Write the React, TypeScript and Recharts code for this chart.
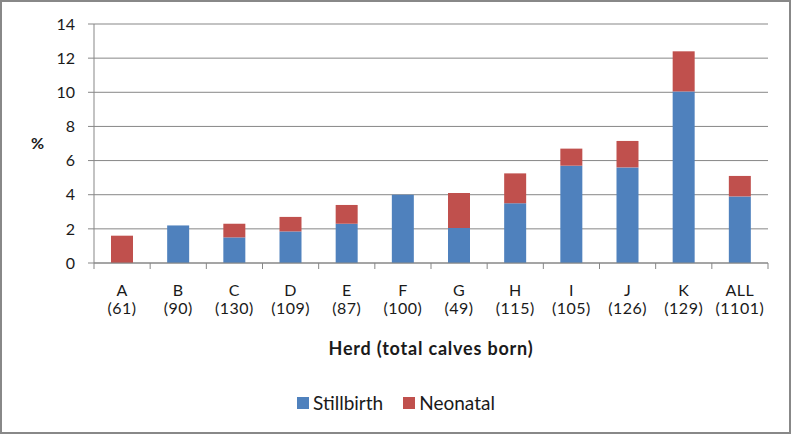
import React from "react";
import { BarChart, Bar, XAxis, YAxis, CartesianGrid, Legend } from "recharts";

const herds = ["A", "B", "C", "D", "E", "F", "G", "H", "I", "J", "K", "ALL"];
const calvesBorn = ["61", "90", "130", "109", "87", "100", "49", "115", "105", "126", "129", "1101"];
const stillbirth = [0, 2.2, 1.5, 1.85, 2.3, 4.0, 2.05, 3.5, 5.7, 5.6, 10.05, 3.9];
const neonatal = [1.6, 0, 0.8, 0.85, 1.1, 0, 2.05, 1.75, 1.0, 1.55, 2.35, 1.2];
const yTicks = [0, 2, 4, 6, 8, 10, 12, 14];
const seriesOrder = ["stillbirth", "neonatal"];

const data = herds.map((h, i) => ({
  herd: h,
  born: calvesBorn[i],
  stillbirth: stillbirth[i],
  neonatal: neonatal[i],
}));

const FONT = "Lato, 'Open Sans', sans-serif";
const GRID = "#878787";
const TEXT = "#1a1a1a";

// two-line category label plus a tick mark on the band boundary
function HerdTick(props: any) {
  const { x, y, payload, index } = props;
  const half = payload.offset || 28;
  const axisY = y - 6;
  const row = data[index] || data.find((d) => d.herd === payload.value);
  return (
    <g>
      <line x1={x - half} x2={x - half} y1={axisY} y2={axisY + 6} stroke={GRID} />
      {index === herds.length - 1 && (
        <line x1={x + half} x2={x + half} y1={axisY} y2={axisY + 6} stroke={GRID} />
      )}
      <text
        x={x}
        y={axisY + 33}
        textAnchor="middle"
        fontSize={16}
        fontFamily={FONT}
        fill={TEXT}
        letterSpacing={0.5}
      >
        <tspan x={x}>{payload.value}</tspan>
        <tspan x={x} dy={17.5}>
          ({row ? row.born : ""})
        </tspan>
      </text>
    </g>
  );
}

function LegendBox(props: any) {
  const items = [...(props.payload || [])].sort(
    (a: any, b: any) => seriesOrder.indexOf(a.dataKey) - seriesOrder.indexOf(b.dataKey)
  );
  return (
    <div style={{ display: "flex", justifyContent: "center", fontFamily: FONT, fontSize: 19, color: TEXT }}>
      {items.map((it: any, i: number) => (
        <div key={i} style={{ display: "flex", alignItems: "center", marginRight: i < items.length - 1 ? 20 : 0 }}>
          <span style={{ width: 12, height: 12, background: it.color, display: "inline-block", marginRight: 4 }} />
          <span>{it.value}</span>
        </div>
      ))}
    </div>
  );
}

export default function App() {
  return (
    <div style={{ position: "absolute", left: 0, top: 0, width: 792, height: 435, background: "#fff" }}>
      <BarChart
        width={792}
        height={435}
        data={data}
        margin={{ top: 24, right: 24, left: 0, bottom: 0 }}
      >
        <CartesianGrid vertical={false} stroke={GRID} />
        <XAxis
          dataKey="herd"
          height={172}
          stroke={GRID}
          tickLine={false}
          tickSize={6}
          tickMargin={0}
          interval={0}
          tick={<HerdTick />}
          label={{
            value: "Herd (total calves born)",
            position: "insideTop",
            offset: 79,
            style: { fontFamily: FONT, fontSize: 18, fontWeight: 700, fill: TEXT, letterSpacing: 0.8 },
          }}
        />
        <YAxis
          width={94}
          domain={[0, 14]}
          ticks={yTicks}
          stroke={GRID}
          tickSize={6}
          tickMargin={13}
          tick={{ fontFamily: FONT, fontSize: 16, fill: TEXT }}
          label={{
            value: "%",
            position: "insideLeft",
            offset: 31,
            angle: 0,
            style: { fontFamily: FONT, fontSize: 16, fontWeight: 700, fill: TEXT },
          }}
        />
        <Legend
          layout="vertical"
          align="center"
          verticalAlign="bottom"
          content={<LegendBox />}
          wrapperStyle={{ top: 391, bottom: "auto", left: 0, width: 792, height: 0, overflow: "visible" }}
        />
        <Bar dataKey="stillbirth" name="Stillbirth" stackId="a" fill="#4F81BD" barSize={22} isAnimationActive={false} />
        <Bar dataKey="neonatal" name="Neonatal" stackId="a" fill="#C0504D" barSize={22} isAnimationActive={false} />
      </BarChart>
      <div
        style={{
          position: "absolute",
          left: 0,
          top: 0,
          width: 791,
          height: 434,
          boxSizing: "border-box",
          border: "2px solid #888",
          pointerEvents: "none",
        }}
      />
    </div>
  );
}
